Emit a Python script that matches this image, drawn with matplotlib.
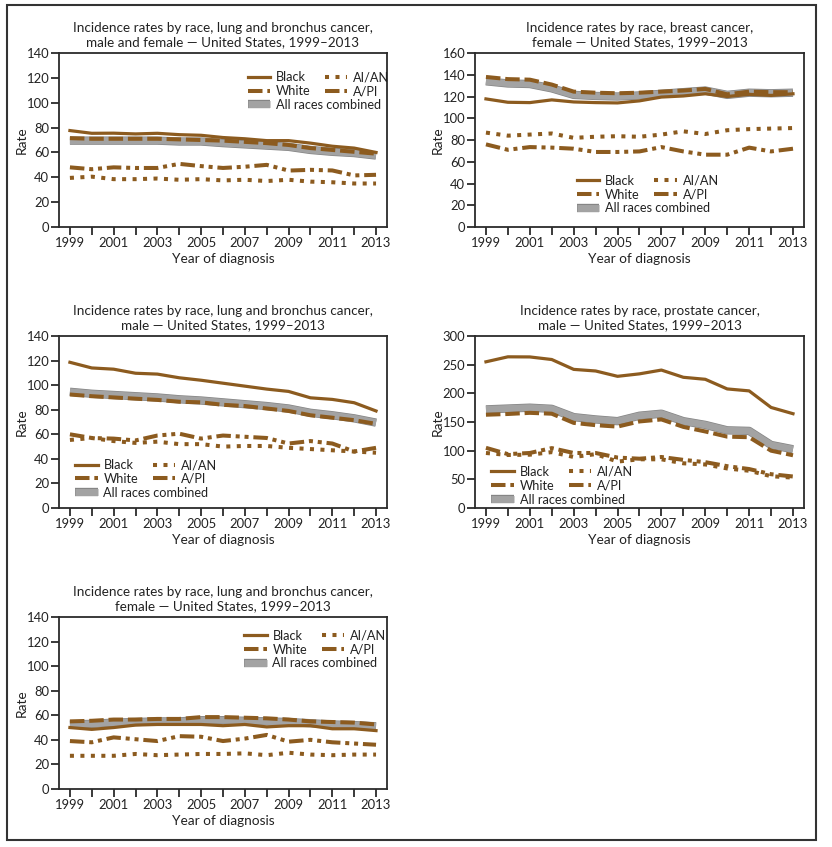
import matplotlib
matplotlib.use("Agg")
import matplotlib.pyplot as plt
import matplotlib.patheffects as pe
from matplotlib.patches import Rectangle

plt.rcParams['font.family'] = ['Lato', 'DejaVu Sans']

years = list(range(1999, 2014))
races = ["Black", "White", "All races combined", "AI/AN", "A/PI"]

# lung and bronchus, male and female
lung_all_black = [77.6, 75.4, 75.5, 74.9, 75.4, 74.3, 73.8, 72, 71, 69.5, 69.5, 67.5, 65, 63.5, 60]
lung_all_white = [71.5, 71, 71, 71, 71, 70.5, 70, 69.5, 68.5, 67.5, 66, 63.5, 62, 60.5, 59]
lung_all_comb = [69.5, 69.5, 69.5, 69.5, 69.5, 68.8, 68.8, 67.5, 66.5, 65.5, 64.5, 62, 60.5, 59.5, 57.5]
lung_all_aian = [39.5, 40.5, 38.5, 38.5, 39, 38, 38.5, 37.5, 38, 37, 38, 36.5, 36, 35, 35]
lung_all_api = [48, 46.5, 48, 47.5, 47.5, 50.8, 49, 47.5, 48.5, 50, 45.4, 46, 45.5, 41.5, 42]

# breast, female
breast_black = [117.8, 114.7, 114.4, 116.9, 115, 114.4, 114.1, 116, 119.5, 120.5, 122.5, 120, 122, 121, 122.5]
breast_white = [138, 136, 135.5, 131, 124.5, 123.5, 123, 123.5, 124.5, 125.5, 127, 122, 124.5, 124, 124]
breast_comb = [134, 132, 131.5, 127.5, 121.5, 120.5, 120, 121, 122.5, 124, 125.5, 121.5, 123.5, 123, 123.5]
breast_aian = [86.8, 84, 85, 86, 82, 83, 83.5, 83, 85, 88, 85.5, 89, 90, 90.5, 91]
breast_api = [76, 71, 73.5, 73, 72, 69, 69, 69.5, 73.5, 69.5, 66.5, 66.5, 73, 69.5, 72]

# lung and bronchus, male
lung_m_black = [118.6, 114, 113, 109.7, 109, 106, 104, 101.6, 99.2, 96.8, 94.9, 89.7, 88.4, 85.7, 79]
lung_m_white = [92.4, 91, 90, 89, 88, 86.5, 86, 84, 83, 81, 79, 75.5, 73.5, 71.5, 68.5]
lung_m_comb = [94.6, 93, 92, 91, 90, 88.5, 87.5, 86, 84.5, 83, 81, 77.5, 75.5, 73, 69.5]
lung_m_aian = [55.4, 57, 54.5, 53, 54, 52, 52, 50, 50.5, 50.5, 49, 48, 47, 46, 45]
lung_m_api = [60, 57, 56.5, 55, 59, 60.5, 56.5, 59, 58, 57, 52.5, 54.5, 52.5, 46, 49]

# prostate, male
prost_black = [255, 263.7, 263.5, 259, 241.8, 239, 229.7, 234, 240.6, 228, 224.5, 207.7, 204.3, 175.4, 164.5]
prost_white = [162.7, 164, 166, 164.5, 148.5, 144.5, 142, 151, 154.5, 141.5, 133.5, 124.5, 123.5, 100, 92]
prost_comb = [172, 173.5, 175, 173, 158.5, 154.5, 151.5, 161, 164.5, 151.5, 145, 135.5, 134.5, 110, 102.5]
prost_aian = [96, 92.5, 93, 97.5, 89, 94, 81, 85, 85, 78, 76, 69, 65, 55.5, 53]
prost_api = [105, 94, 96, 104.5, 96, 96, 88, 86, 89, 84, 80, 73, 68, 59, 55]

# lung and bronchus, female
lung_f_black = [50, 48.5, 50, 52, 52.5, 52.5, 52.5, 51.5, 52.5, 50.5, 51.5, 51.5, 49, 49, 47.5]
lung_f_white = [55, 55.5, 56.5, 56.5, 57, 57, 58.5, 58.5, 58, 57.5, 56.5, 55, 54.5, 54, 52.5]
lung_f_comb = [52.5, 53, 54, 54.5, 55, 55, 56, 56, 55.5, 55, 54.5, 53.5, 52.5, 52, 51]
lung_f_aian = [27, 27, 27, 28.5, 27.5, 28, 28.5, 28.5, 29, 27.5, 29.5, 28, 27.5, 28, 28]
lung_f_api = [39, 38, 42, 40.5, 39, 43, 42.5, 39, 41, 44, 38.5, 40, 38, 37, 36]

brown = '#8C5B1F'
gray = '#a3a3a3'
frame = '#2b2b2b'
txt = '#222222'

# title, series, y max, legend anchor (upper-left corner, axes coords), axes rect
panels = [
    ("Incidence rates by race, lung and bronchus cancer,\nmale and female \u2014 United States, 1999\u20132013",
     [lung_all_black, lung_all_white, lung_all_comb, lung_all_aian, lung_all_api], 140, (0.575, 0.895),
     [0.0709, 0.7320, 0.3942, 0.2054]),
    ("Incidence rates by race, breast cancer,\nfemale \u2014 United States, 1999\u20132013",
     [breast_black, breast_white, breast_comb, breast_aian, breast_api], 160, (0.31, 0.30),
     [0.5709, 0.7320, 0.3954, 0.2054]),
    ("Incidence rates by race, lung and bronchus cancer,\nmale \u2014 United States, 1999\u20132013",
     [lung_m_black, lung_m_white, lung_m_comb, lung_m_aian, lung_m_api], 140, (0.05, 0.285),
     [0.0709, 0.4002, 0.3942, 0.2031]),
    ("Incidence rates by race, prostate cancer,\nmale \u2014 United States, 1999\u20132013",
     [prost_black, prost_white, prost_comb, prost_aian, prost_api], 300, (0.05, 0.245),
     [0.5709, 0.4002, 0.3954, 0.2031]),
    ("Incidence rates by race, lung and bronchus cancer,\nfemale \u2014 United States, 1999\u20132013",
     [lung_f_black, lung_f_white, lung_f_comb, lung_f_aian, lung_f_api], 140, (0.565, 0.925),
     [0.0709, 0.0685, 0.3942, 0.2031]),
]

fig = plt.figure(figsize=(8.32, 8.47), dpi=100)
fig.patches.append(Rectangle((7 / 832, 1 - 840 / 847), 809 / 832, 835 / 847,
                             transform=fig.transFigure, fill=False,
                             edgecolor='#333333', linewidth=1.5))

leg_kw = dict(frameon=False, fontsize=9.2, handlelength=1.75, handletextpad=0.45,
              labelspacing=0.15, borderpad=0, borderaxespad=0, labelcolor=txt)

for title, series, ymax, anchor, rect in panels:
    ax = fig.add_axes(rect)
    black, white, comb, aian, api = series
    h_comb, = ax.plot(years, comb, color=gray, lw=5, solid_capstyle='butt', label=races[2],
                      path_effects=[pe.Stroke(linewidth=6, foreground='#858585'), pe.Normal()],
                      zorder=2)
    h_white, = ax.plot(years, white, color=brown, lw=2.9, dashes=(3.6, 1.2), label=races[1], zorder=3)
    h_black, = ax.plot(years, black, color=brown, lw=2.3, label=races[0], zorder=4)
    h_aian, = ax.plot(years, aian, color=brown, lw=2.9, dashes=(1, 1.6), label=races[3], zorder=3)
    h_api, = ax.plot(years, api, color=brown, lw=2.9, dashes=(3.6, 1.2, 1, 1.2, 1, 1.2),
                     label=races[4], zorder=3)

    ax.set_xlim(1998.5, 2013.5)
    ax.set_ylim(0, ymax)
    ax.set_xticks(years)
    ax.set_xticklabels([str(y) if y % 2 == 1 else '' for y in years])
    step = 50 if ymax == 300 else 20
    ax.set_yticks(range(0, ymax + 1, step))
    ax.tick_params(axis='both', direction='out', length=5.5, width=1.3, color=frame,
                   labelsize=9.4, labelcolor=txt, pad=1.5)
    for s in ax.spines.values():
        s.set_color(frame)
        s.set_linewidth(1.3)
    ax.set_title(title, fontsize=9.7, color=txt, pad=5, linespacing=1.25)
    ax.set_xlabel("Year of diagnosis", fontsize=9.8, color=txt, labelpad=3)
    ax.set_ylabel("Rate", fontsize=9.8, color=txt, labelpad=-1)

    # two rows of two columns, then the combined line on a third row
    leg1 = ax.legend([h_black, h_white, h_aian, h_api], [races[0], races[1], races[3], races[4]],
                     loc='upper left', bbox_to_anchor=anchor, ncol=2, columnspacing=1.15, **leg_kw)
    ax.add_artist(leg1)
    fig.canvas.draw()
    bb = leg1.get_window_extent().transformed(ax.transAxes.inverted())
    ax.legend([h_comb], [races[2]], loc='upper left',
              bbox_to_anchor=(anchor[0], bb.y0 - 0.01), **leg_kw)

fig.savefig("out.png", dpi=100)
